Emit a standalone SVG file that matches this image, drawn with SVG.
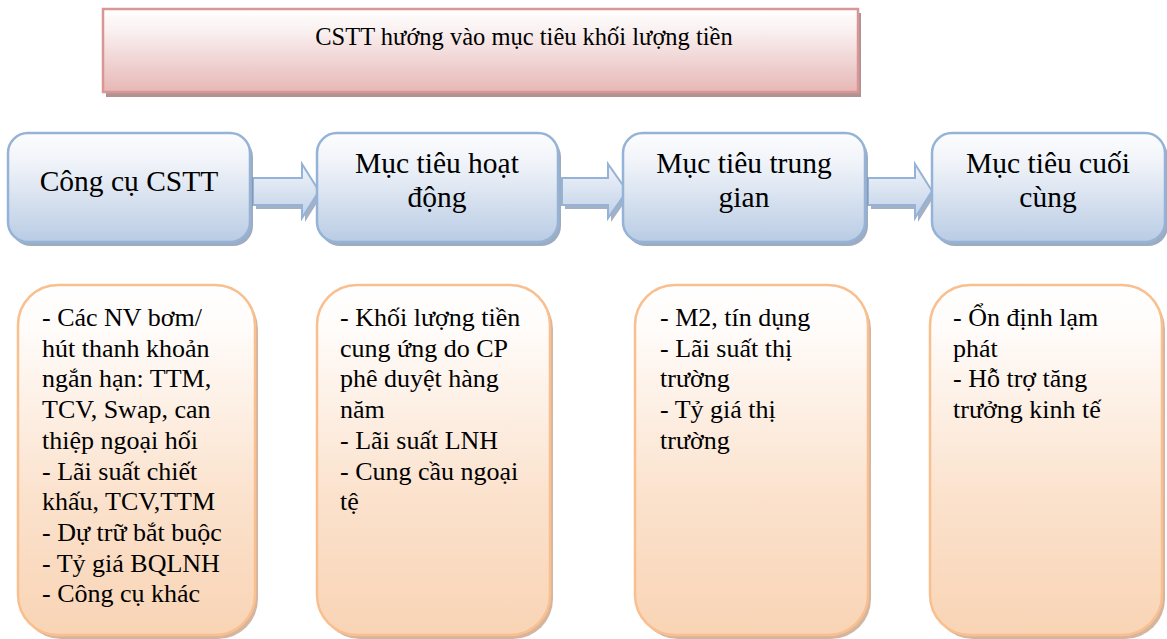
<svg xmlns="http://www.w3.org/2000/svg" width="1167" height="639" viewBox="0 0 1167 639">
<defs>
<linearGradient id="gTitle" x1="0" y1="0" x2="0" y2="1"><stop offset="0" stop-color="#ffffff"/><stop offset="0.25" stop-color="#faf1f1"/><stop offset="1" stop-color="#e6b7b6"/></linearGradient>
<linearGradient id="gBlue" x1="0" y1="0" x2="0" y2="1"><stop offset="0" stop-color="#fdfdfe"/><stop offset="0.3" stop-color="#eef2f8"/><stop offset="1" stop-color="#b9cce4"/></linearGradient>
<linearGradient id="gArrow" x1="0" y1="0" x2="0" y2="1"><stop offset="0" stop-color="#f2f5fa"/><stop offset="1" stop-color="#c0d1e8"/></linearGradient>
<linearGradient id="gOrange" x1="0" y1="0" x2="0" y2="1"><stop offset="0" stop-color="#ffffff"/><stop offset="0.12" stop-color="#fffcfa"/><stop offset="0.6" stop-color="#fbe2cd"/><stop offset="1" stop-color="#f9d4b5"/></linearGradient>
<style>
text{fill:#000}
.top{font-size:29.5px;text-anchor:middle}
.bot{font-size:26px}
.ttl{font-size:24.5px;text-anchor:middle}
.bbox{fill:url(#gBlue);stroke:#95b3d7;stroke-width:2.5}
.bsh{fill:#7d90ab;opacity:0.75}
.obox{fill:url(#gOrange);stroke:#f9bf8f;stroke-width:2.5}
.osh{fill:#c9a488;opacity:0.8}
.arr{fill:url(#gArrow);stroke:#95b3d7;stroke-width:2;stroke-linejoin:miter}
.ash{fill:#7d90ab;opacity:0.7}
</style>
</defs>
<rect width="1167" height="639" fill="#ffffff"/>
<g font-family="Liberation Serif, DejaVu Serif, serif">

<g id="title">
<rect x="106" y="13" width="755" height="84" fill="#b09293"/>
<rect x="103" y="9" width="755" height="83" fill="url(#gTitle)" stroke="#d99694" stroke-width="2.5"/>
<text class="ttl" x="524" y="45">CSTT hướng vào mục tiêu khối lượng tiền</text>
</g>

<g id="connectors">
<g id="arrow1">
<polygon class="ash" points="256,182 305,182 305,168 322,195 305,222 305,209 256,209"/>
<polygon class="arr" points="253,178 302,178 302,164 319,191 302,218 302,205 253,205"/>
</g>
<g id="arrow2">
<polygon class="ash" points="565,182 611,182 611,168 630,195 611,222 611,209 565,209"/>
<polygon class="arr" points="562,178 608,178 608,164 627,191 608,218 608,205 562,205"/>
</g>
<g id="arrow3">
<polygon class="ash" points="871,182 918,182 918,168 935,195 918,222 918,209 871,209"/>
<polygon class="arr" points="868,178 915,178 915,164 932,191 915,218 915,205 868,205"/>
</g>
</g>

<g id="tool">
<rect class="bsh" x="11" y="137" width="242" height="109" rx="20"/>
<rect class="bbox" x="8" y="133" width="242" height="109" rx="20"/>
<text class="top" x="129" y="191">Công cụ CSTT</text>
</g>
<g id="operating">
<rect class="bsh" x="320" y="137" width="241" height="109" rx="20"/>
<rect class="bbox" x="317" y="133" width="241" height="109" rx="20"/>
<text class="top" x="437" y="173">Mục tiêu hoạt</text>
<text class="top" x="437" y="207">động</text>
</g>
<g id="intermediate">
<rect class="bsh" x="626" y="137" width="242" height="109" rx="20"/>
<rect class="bbox" x="623" y="133" width="242" height="109" rx="20"/>
<text class="top" x="744" y="173">Mục tiêu trung</text>
<text class="top" x="744" y="207">gian</text>
</g>
<g id="final">
<rect class="bsh" x="935" y="137" width="233" height="109" rx="20"/>
<rect class="bbox" x="932" y="133" width="233" height="109" rx="20"/>
<text class="top" x="1048" y="173">Mục tiêu cuối</text>
<text class="top" x="1048" y="207">cùng</text>
</g>

<g id="tool-list">
<rect class="osh" x="21" y="289" width="237" height="350" rx="40"/>
<rect class="obox" x="18" y="285" width="237" height="350" rx="40"/>
<text class="bot" x="42" y="326">- Các NV bơm/</text>
<text class="bot" x="42" y="356.7">hút thanh khoản</text>
<text class="bot" x="42" y="387.4">ngắn hạn: TTM,</text>
<text class="bot" x="42" y="418.1">TCV, Swap, can</text>
<text class="bot" x="42" y="448.8">thiệp ngoại hối</text>
<text class="bot" x="42" y="479.5">- Lãi suất chiết</text>
<text class="bot" x="42" y="510.2">khấu, TCV,TTM</text>
<text class="bot" x="42" y="540.9">- Dự trữ bắt buộc</text>
<text class="bot" x="42" y="571.6">- Tỷ giá BQLNH</text>
<text class="bot" x="42" y="602.3">- Công cụ khác</text>
</g>
<g id="operating-list">
<rect class="osh" x="320" y="289" width="233" height="350" rx="40"/>
<rect class="obox" x="317" y="285" width="233" height="350" rx="40"/>
<text class="bot" x="340" y="326">- Khối lượng tiền</text>
<text class="bot" x="340" y="356.7">cung ứng do CP</text>
<text class="bot" x="340" y="387.4">phê duyệt hàng</text>
<text class="bot" x="340" y="418.1">năm</text>
<text class="bot" x="340" y="448.8">- Lãi suất LNH</text>
<text class="bot" x="340" y="479.5">- Cung cầu ngoại</text>
<text class="bot" x="340" y="510.2">tệ</text>
</g>
<g id="intermediate-list">
<rect class="osh" x="638" y="289" width="233" height="350" rx="40"/>
<rect class="obox" x="635" y="285" width="233" height="350" rx="40"/>
<text class="bot" x="660" y="326">- M2, tín dụng</text>
<text class="bot" x="660" y="356.7">- Lãi suất thị</text>
<text class="bot" x="660" y="387.4">trường</text>
<text class="bot" x="660" y="418.1">- Tỷ giá thị</text>
<text class="bot" x="660" y="448.8">trường</text>
</g>
<g id="final-list">
<rect class="osh" x="933" y="289" width="232" height="350" rx="40"/>
<rect class="obox" x="930" y="285" width="232" height="350" rx="40"/>
<text class="bot" x="953" y="326">- Ổn định lạm</text>
<text class="bot" x="953" y="356.7">phát</text>
<text class="bot" x="953" y="387.4">- Hỗ trợ tăng</text>
<text class="bot" x="953" y="418.1">trưởng kinh tế</text>
</g>
</g>
</svg>
